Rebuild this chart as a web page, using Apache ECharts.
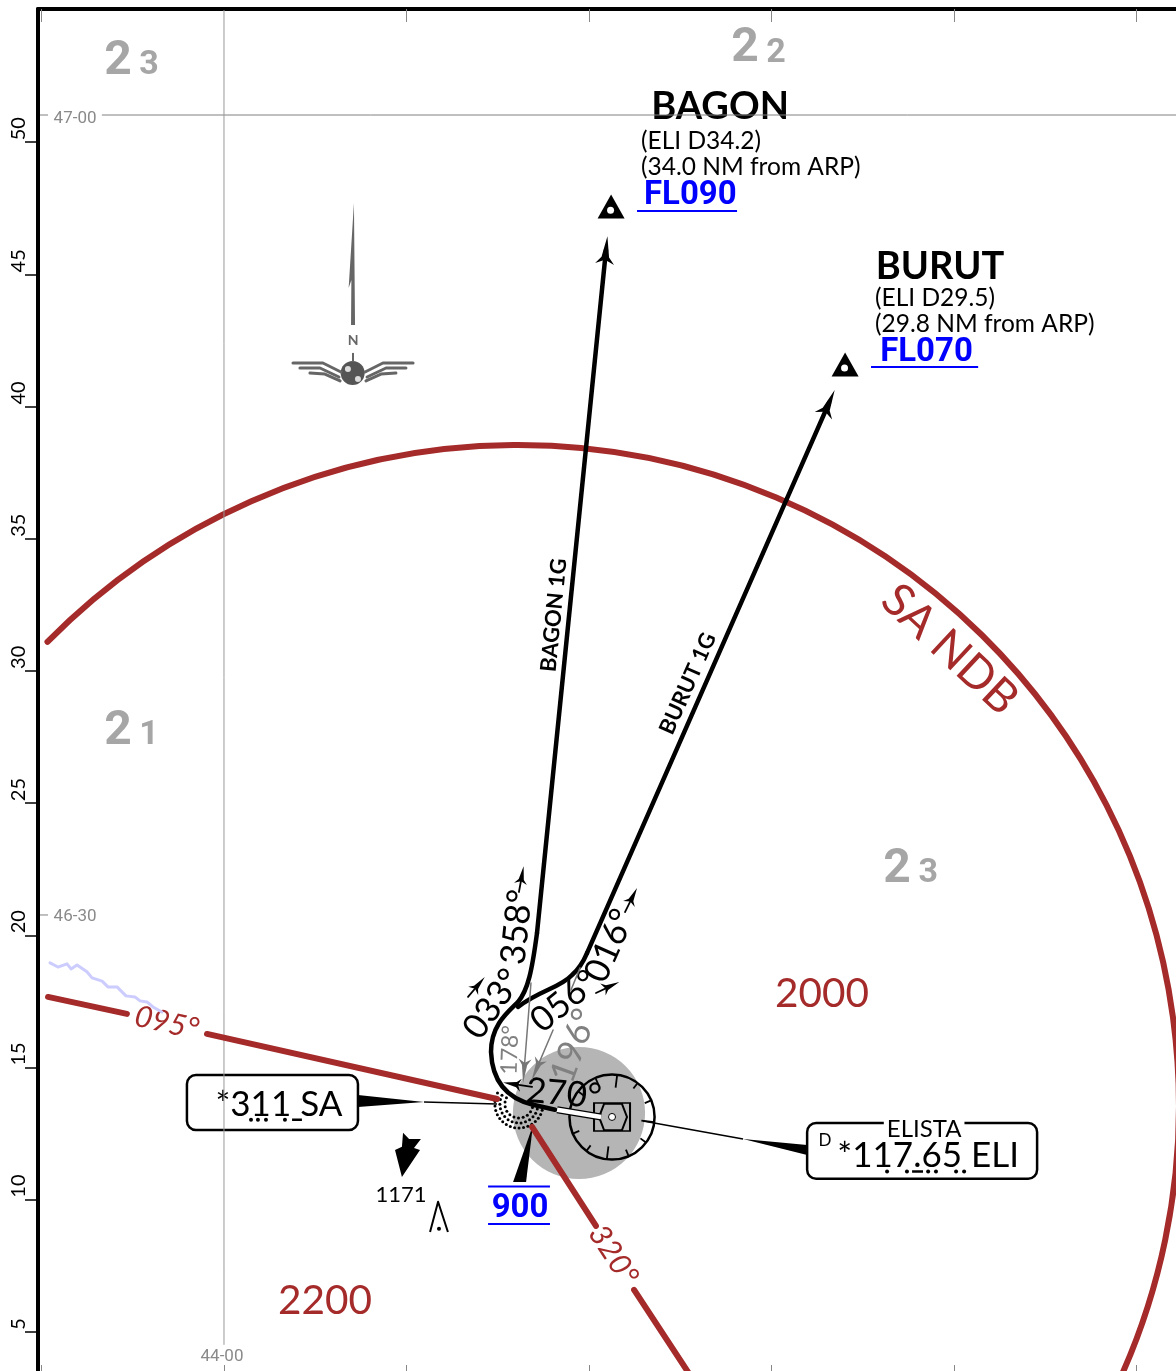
<!DOCTYPE html>
<html>
<head>
<meta charset="utf-8">
<title>BAGON 1G / BURUT 1G</title>
<style>
html, body { margin: 0; padding: 0; background: #fff; }
#chart { width: 1176px; height: 1371px; }
</style>
<script src="https://cdn.jsdelivr.net/npm/echarts@6/dist/echarts.min.js"></script>
</head>
<body>
<div id="chart"></div>
<script>
// all map geometry is [minutes of longitude east of 44-00, NM on the left hand scale]
var nmTicks = [5, 10, 15, 20, 25, 30, 35, 40, 45, 50];
var lonTicksTop = [-10, 10, 20, 30, 40, 50];
var lonTicksBottom = [-10, 0, 10, 20, 30, 40, 50];

// MSA circle round the NDB
var msaCentre = [16.11, 13.55];
var msaRadiusNm = [25];
var msaBearing095a = [[-9.64, 17.67], [-5.32, 17.03]];
var msaBearing095b = [[-0.93, 16.27], [14.96, 13.81]];
var msaBearing320a = [[16.88, 12.75], [20.38, 9.01]];
var msaBearing320b = [[22.47, 6.59], [25.53, 3.37]];

// lat / long lines
var lat4700Line = [[-6.69, 51.03], [52.16, 51.03]];
var lat4700Tick = [[-10.08, 51.03], [-9.64, 51.03]];
var lat4630Tick = [[-10.08, 20.77], [-9.64, 20.77]];
var lon4400Line = [[0, 55], [0, 4.51]];

var terrainLine = [[-9.53, 18.96], [-9.10, 18.80], [-8.60, 18.92], [-8.38, 18.73], [-8.05, 18.88], [-7.51, 18.62],
    [-7.23, 18.39], [-6.68, 18.27], [-6.36, 18.05], [-5.86, 18.05], [-5.37, 17.71], [-4.88, 17.67], [-4.60, 17.52],
    [-4.22, 17.48], [-3.89, 17.29], [-3.40, 17.10]];

// departure tracks, the turns are start point then control, control, end triples
var bagonStart = [[18.14, 13.40], [16.93, 13.59]];
var bagonTurn = [[16.93, 13.59],
    [15.40, 13.85], [14.69, 14.53], [14.63, 15.59],
    [14.63, 16.61], [15.56, 17.10], [16.11, 17.48],
    [16.66, 17.93], [16.88, 18.69], [17.15, 20.09]];
var bagonLeg = [[17.15, 20.09], [20.93, 45.92]];
var burutTurn = [[16.11, 17.29],
    [17.32, 17.93], [18.41, 18.01], [19.07, 18.50],
    [19.51, 18.77], [19.73, 19.07], [19.89, 19.33]];
var burutLeg = [[19.89, 19.33], [33.15, 40.14]];
var trackHeads = [[20.93, 45.92], [33.15, 40.14]];
var trackHeadAngles = [-5.8, -23.8];

// little course arrows
var arrow358 = [[16.16, 21.64], [16.33, 22.28]];
var arrow016 = [[21.97, 20.88], [22.41, 21.49]];
var arrow033 = [[13.37, 17.67], [13.97, 18.16]];
var arrow056 = [[20.38, 17.82], [21.21, 18.09]];
var arrow270 = [[16.88, 14.27], [15.78, 14.38]];
var blackHeads = [[16.33, 22.28], [22.41, 21.49], [13.97, 18.16], [21.21, 18.09], [15.78, 14.38]];
var blackHeadAngles = [-10, -26.6, -40, -65.6, 81.3];
var arrow178 = [[16.82, 18.20], [16.44, 14.87]];
var arrow196 = [[18.03, 16.42], [17.10, 14.91]];
var arrow196Top = [[19.51, 18.77], [19.01, 17.93]];
var greyHeads = [[16.44, 14.87], [17.10, 14.91]];
var greyHeadAngles = [-184.8, -203];

// fixes
var fixTriangles = [[21.21, 47.57], [34.03, 41.59]];
var fixHoles = [[21.18, 47.43], [34.00, 41.46]];
var fl090Rule = [[22.63, 47.40], [28.11, 47.40]];
var fl070Rule = [[35.45, 41.50], [41.32, 41.50]];
var alt900RuleTop = [[14.47, 10.50], [17.86, 10.50]];
var alt900RuleBottom = [[14.47, 9.08], [17.86, 9.08]];

// airport and navaids
var arpDisc = [19.45, 13.28];
var arpDiscRadiusNm = [2.5];
var roseCentre = [21.26, 13.13];
var roseRadiusNm = [1.61];
var roseBearings = [7, 37, 67, 97, 127, 157, 187, 217, 247, 277, 307, 337];
var runway = [[18.25, 13.40], [20.66, 13.13]];
var ndbCentre = [16.16, 13.62];
var ndbRingsNm = [0.53, 0.72, 0.91];

// callout boxes: corner, corner
var boxSa = [[-2.03, 14.72], [7.34, 12.64]];
var boxEli = [[31.95, 12.90], [44.55, 10.79]];
var leaderSa = [[10.96, 13.70], [14.96, 13.62]];
var leaderEli = [[22.96, 12.98], [28.44, 12.30]];
var morseSaDots = [[1.48, 13.02], [1.86, 13.02], [2.30, 13.02], [3.34, 13.02]];
var morseSaDash = [[3.73, 13.02], [4.27, 13.02]];
var morseEliDots = [[36.33, 11.07], [37.42, 11.07], [38.58, 11.07], [39.01, 11.07], [40.11, 11.07], [40.55, 11.07]];
var morseEliDash = [[37.70, 11.07], [38.30, 11.07]];

// solid shapes
var blackShapes = [
    [[7.34, 13.96], [10.96, 13.70], [7.34, 13.51]],
    [[31.95, 12.07], [28.44, 12.30], [31.95, 11.69]],
    [[16.93, 12.83], [15.84, 10.67], [16.55, 10.67]],
    [[9.81, 12.53], [10.14, 12.30], [10.79, 12.30], [10.41, 11.96], [10.74, 11.88], [9.75, 10.86], [9.37, 11.88], [9.75, 12.00]]
];
var towerLine = [[11.29, 8.78], [11.73, 9.92], [12.27, 8.78]];
var towerDot = [[11.78, 8.90]];

// north arrow and logo
var needle = [[[7.12, 47.70], [6.83, 44.49], [6.98, 44.79], [6.96, 43.09], [7.18, 43.09]]];
var needleStem = [[7.07, 42.03], [7.07, 41.69]];
var globe = [[7.05, 41.27]];
var globeLand = [[6.79, 41.42], [7.34, 41.04]];
var wingFeathers = [
    [[3.78, 41.65], [5.42, 41.65], [6.41, 41.31]],
    [[4.16, 41.46], [5.26, 41.46], [6.30, 41.12]],
    [[4.71, 41.27], [5.53, 41.23], [6.36, 40.97]],
    [[10.36, 41.65], [8.71, 41.65], [7.73, 41.31]],
    [[9.97, 41.46], [8.88, 41.46], [7.84, 41.12]],
    [[9.42, 41.27], [8.60, 41.23], [7.78, 40.97]]
];

// texts: text, x, y, angle
var sectorBig = [['2', -5.81, 53.11, 0], ['2', 28.55, 53.60, 0], ['2', -5.81, 27.77, 0], ['2', 36.88, 22.55, 0]];
var sectorSmall = [['3', -4.11, 52.96, 0], ['2', 30.25, 53.45, 0], ['1', -4.11, 27.65, 0], ['3', 38.58, 22.40, 0]];
var sectorAltitudes = [['2000', 32.77, 17.86, 0], ['2200', 5.53, 6.25, 0]];
var sectorBearings = [['095°', -3.12, 16.76, -12.7], ['320°', 21.42, 7.95, -57]];
var msaName = [['SA NDB', 39.84, 30.87, -43]];
var latLonLabels = [['47-00', -8.16, 50.95, 0], ['46-30', -8.16, 20.77, 0], ['44-00', -0.11, 4.13, 0]];
var fixNames = [['BAGON', 27.18, 51.41, 0], ['BURUT', 39.23, 45.35, 0]];
var fixNotes = [['(ELI D34.2)', 22.85, 50.12, 0], ['(34.0 NM from ARP)', 22.85, 49.14, 0],
    ['(ELI D29.5)', 35.67, 44.18, 0], ['(29.8 NM from ARP)', 35.67, 43.20, 0]];
var fixLevels = [['FL090', 23.01, 48.04, 0], ['FL070', 35.95, 42.10, 0]];
var trackNames = [['BAGON 1G', 17.97, 32.12, 84.5], ['BURUT 1G', 25.32, 29.55, 66]];
var courses = [['358°', 15.95, 20.32, 84], ['016°', 21.04, 19.64, 66], ['033°', 14.63, 17.44, 55],
    ['056°', 18.58, 17.56, 39], ['270°', 18.63, 14.08, -5]];
var course178 = [['178°', 15.56, 15.67, 88]];
var course196 = [['196°', 19.07, 15.85, 70]];
var navaidTexts = [['*311 SA', 3.01, 13.66, 0], ['*117.65 ELI', 38.58, 11.73, 0]];
var navaidD = [['D', 32.93, 12.30, 0]];
var navaidName = [['ELISTA', 38.36, 12.75, 0]];
var spotHeight = [['1171', 9.70, 10.26, 0]];
var minAltitude = [['900', 16.22, 9.73, 0]];
var northLetter = [['N', 7.07, 42.56, 0]];

var BROWN = '#a52a2a';
var GREY = '#a6a6a6';
var LABEL_GREY = '#8a8a8a';
var LOGO_GREY = '#666';
var BLUE = '#0000ff';
var arrowHead = 'path://M5 0L7 12L10 16L5 13.5L0 16L3 12Z';
var airportGlyph = 'path://M0 0H36V28H0ZM5 14L10 1H28L33 14L28 27H10Z';

function line(data, color, width, smooth, cap) {
    return {
        type: 'line', data: data, symbol: 'none', smooth: smooth || false, silent: true, animation: false,
        lineStyle: { color: color, width: width, cap: cap || 'round', join: 'round' }
    };
}

function dots(data, symbol, size, color, extra) {
    var s = {
        type: 'scatter', data: data, symbol: symbol, symbolSize: size, silent: true, animation: false,
        itemStyle: { color: color, opacity: 1 }
    };
    for (var k in extra) { s[k] = extra[k]; }
    return s;
}

function heads(data, angles, size, color) {
    return dots(data, arrowHead, size, color, {
        symbolRotate: function (v, p) { return angles[p.dataIndex]; }
    });
}

function custom(data, renderItem) {
    return { type: 'custom', coordinateSystem: 'cartesian2d', data: data, renderItem: renderItem, silent: true, animation: false };
}

function turn(points, color, width) {
    return custom([points[0]], function (params, api) {
        var d = '';
        points.forEach(function (p, i) {
            var c = api.coord(p);
            d += (i === 0 ? 'M' : (i % 3 === 1 ? 'C' : ' ')) + c[0] + ' ' + c[1];
        });
        return {
            type: 'path',
            shape: { pathData: d },
            style: { fill: 'none', stroke: color, lineWidth: width, lineCap: 'round' }
        };
    });
}

function shapes(polys, color) {
    return custom(polys.map(function (p) { return p[0]; }), function (params, api) {
        return {
            type: 'polygon',
            shape: { points: polys[params.dataIndex].map(function (p) { return api.coord(p); }) },
            style: { fill: color }
        };
    });
}

function disc(centre, radius, color) {
    return custom([centre], function (params, api) {
        var c = api.coord(centre);
        return { type: 'circle', shape: { cx: c[0], cy: c[1], r: api.size([0, radius[0]])[1] }, style: { fill: color } };
    });
}

function box(corners) {
    return custom([corners[0]], function (params, api) {
        var a = api.coord(corners[0]);
        var b = api.coord(corners[1]);
        return {
            type: 'rect',
            shape: { x: a[0], y: a[1], width: b[0] - a[0], height: b[1] - a[1], r: 9 },
            style: { fill: 'none', stroke: '#000', lineWidth: 2.5 }
        };
    });
}

function texts(rows, font, color, align, extra) {
    return custom(rows.map(function (r) { return [r[1], r[2]]; }), function (params, api) {
        var r = rows[params.dataIndex];
        var c = api.coord([r[1], r[2]]);
        // fonts here sit a touch high against the middle line
        var style = { text: r[0], y: 2, font: font, fill: color, align: align || 'center', verticalAlign: 'middle' };
        for (var k in extra) { style[k] = extra[k]; }
        return { type: 'text', x: c[0], y: c[1], rotation: r[3] * Math.PI / 180, style: style };
    });
}

var msaArc = custom([msaCentre], function (params, api) {
    var c = api.coord(msaCentre);
    return {
        type: 'arc',
        shape: { cx: c[0], cy: c[1], r: api.size([0, msaRadiusNm[0]])[1], startAngle: -135.4 * Math.PI / 180, endAngle: 30 * Math.PI / 180 },
        style: { stroke: BROWN, lineWidth: 6, fill: 'none', lineCap: 'round' }
    };
});

var rose = custom([roseCentre], function (params, api) {
    var c = api.coord(roseCentre);
    var r = api.size([0, roseRadiusNm[0]])[1];
    var kids = [{ type: 'circle', shape: { cx: c[0], cy: c[1], r: r }, style: { fill: 'none', stroke: '#000', lineWidth: 2.5 } }];
    roseBearings.forEach(function (b, i) {
        var a = b * Math.PI / 180;
        var inner = r - (i % 3 === 0 ? 13 : 7);
        kids.push({
            type: 'line',
            shape: { x1: c[0] + Math.sin(a) * inner, y1: c[1] - Math.cos(a) * inner, x2: c[0] + Math.sin(a) * r, y2: c[1] - Math.cos(a) * r },
            style: { stroke: '#000', lineWidth: 1.8 }
        });
    });
    return { type: 'group', children: kids };
});

var ndbDots = custom([ndbCentre], function (params, api) {
    var c = api.coord(ndbCentre);
    var kids = [];
    ndbRingsNm.forEach(function (nm) {
        var r = api.size([0, nm])[1];
        var n = Math.round((192 * Math.PI / 180) * r / 4.6);
        for (var i = 0; i <= n; i++) {
            var a = (15 + 192 * i / n) * Math.PI / 180;
            kids.push({ type: 'circle', shape: { cx: c[0] + Math.cos(a) * r, cy: c[1] + Math.sin(a) * r, r: 1.5 }, style: { fill: '#000' } });
        }
    });
    return { type: 'group', children: kids };
});

var series = [
    line(lat4700Line, '#808080', 1, false, 'butt'),
    line(lat4700Tick, '#808080', 1, false, 'butt'),
    line(lat4630Tick, '#808080', 1, false, 'butt'),
    line(lon4400Line, '#999', 1, false, 'butt'),
    line(terrainLine, '#ccccff', 3),
    msaArc,
    line(msaBearing095a, BROWN, 6),
    line(msaBearing095b, BROWN, 6),
    line(msaBearing320a, BROWN, 6),
    line(msaBearing320b, BROWN, 6),
    disc(arpDisc, arpDiscRadiusNm, '#b5b5b5'),
    rose,
    dots([roseCentre], airportGlyph, [36, 28], 'none', {
        itemStyle: { color: 'none', borderColor: '#000', borderWidth: 1.8, opacity: 1 }
    }),
    dots([roseCentre], 'circle', 7, '#fff', { itemStyle: { color: '#fff', borderColor: '#000', borderWidth: 1, opacity: 1 } }),
    ndbDots,
    line(arrow178, '#777', 1.5),
    line(arrow196, '#777', 1.5),
    line(arrow196Top, '#777', 1.5),
    heads(greyHeads, greyHeadAngles, [13, 24], '#777'),
    line(bagonStart, '#000', 4.5),
    turn(bagonTurn, '#000', 4.5),
    line(bagonLeg, '#000', 4.5),
    turn(burutTurn, '#000', 4.5),
    line(burutLeg, '#000', 4.5),
    line(runway, '#000', 7, false, 'butt'),
    line(runway, '#fff', 4.5, false, 'butt'),
    heads(trackHeads, trackHeadAngles, [19, 28], '#000'),
    line(arrow358, '#000', 1.8),
    line(arrow016, '#000', 1.8),
    line(arrow033, '#000', 1.8),
    line(arrow056, '#000', 1.8),
    line(arrow270, '#000', 1.8),
    heads(blackHeads, blackHeadAngles, [13, 18], '#000'),
    dots(fixTriangles, 'triangle', [27, 24], '#000'),
    dots(fixHoles, 'circle', 7, '#fff'),
    line(fl090Rule, BLUE, 2, false, 'butt'),
    line(fl070Rule, BLUE, 2, false, 'butt'),
    line(alt900RuleTop, BLUE, 2, false, 'butt'),
    line(alt900RuleBottom, BLUE, 2, false, 'butt'),
    box(boxSa),
    box(boxEli),
    line(leaderSa, '#000', 1.5, false, 'butt'),
    line(leaderEli, '#000', 1.5, false, 'butt'),
    shapes(blackShapes, '#000'),
    line(towerLine, '#000', 2, false, 'butt'),
    dots(towerDot, 'circle', 4, '#000'),
    dots(morseSaDots, 'circle', 4, '#000'),
    dots(morseEliDots, 'circle', 4, '#000'),
    line(morseSaDash, '#000', 2.5, false, 'butt'),
    line(morseEliDash, '#000', 2.5, false, 'butt'),
    shapes(needle, LOGO_GREY),
    line(needleStem, LOGO_GREY, 2, false, 'butt')
];

wingFeathers.forEach(function (f) { series.push(line(f, LOGO_GREY, 3)); });

series = series.concat([
    dots(globe, 'circle', 24, '#555'),
    dots(globeLand, 'circle', 6, '#ddd'),
    texts(northLetter, 'bold 14px Lato', LOGO_GREY),
    texts(sectorBig, 'bold 48px Roboto', GREY),
    texts(sectorSmall, 'bold 34px Roboto', GREY),
    texts(sectorAltitudes, '40.5px Lato', BROWN),
    texts(sectorBearings, 'italic 30px Lato', BROWN),
    texts(msaName, '46px Lato', BROWN),
    texts(latLonLabels, '17px Roboto', LABEL_GREY),
    texts(fixNames, 'bold 38px Lato', '#000'),
    texts(fixNotes, '24.5px Lato', '#000', 'left'),
    texts(fixLevels, 'bold 33px Roboto', BLUE, 'left'),
    texts(trackNames, 'bold 22px Lato', '#000'),
    texts(courses, '35px Lato', '#000'),
    texts(course178, '23px Lato', '#808080'),
    texts(course196, '35px Lato', '#808080'),
    texts(navaidTexts, '35px Lato', '#000'),
    texts(navaidD, '17px Lato', '#000'),
    texts(navaidName, '24px Lato', '#000', 'center', { backgroundColor: '#fff', padding: [0, 3] }),
    texts(spotHeight, '22px Lato', '#000'),
    texts(minAltitude, 'bold 33px Roboto', BLUE)
]);

var chart = echarts.init(document.getElementById('chart'), null, { renderer: 'canvas' });
chart.setOption({
    backgroundColor: '#fff',
    animation: false,
    grid: { left: 38, right: 0, top: 9, bottom: 0 },
    xAxis: [
        {
            type: 'value', position: 'top', min: -10.19, max: 52.16, splitLine: { show: false },
            axisLine: { show: true, onZero: false, lineStyle: { color: '#000', width: 4 } },
            axisTick: { show: true, inside: true, length: 13, customValues: lonTicksTop, lineStyle: { color: '#888', width: 1 } },
            axisLabel: { show: false }
        },
        {
            type: 'value', position: 'bottom', min: -10.19, max: 52.16, splitLine: { show: false },
            axisLine: { show: false },
            axisTick: { show: true, inside: true, length: 6, customValues: lonTicksBottom, lineStyle: { color: '#888', width: 1 } },
            axisLabel: { show: false }
        }
    ],
    yAxis: {
        type: 'value', position: 'left', min: 3.52, max: 55.04, splitLine: { show: false },
        axisLine: { show: true, onZero: false, lineStyle: { color: '#000', width: 4 } },
        axisTick: { show: true, length: 13, customValues: nmTicks, lineStyle: { color: '#000', width: 1.5 } },
        axisLabel: {
            show: true, customValues: nmTicks, rotate: 90, margin: 19, align: 'left', verticalAlign: 'middle',
            color: '#000', fontSize: 20, fontFamily: 'Lato', padding: [0, 0, 0, 2],
            formatter: function (v) { return String(v); }
        }
    },
    series: series
});
</script>
</body>
</html>
